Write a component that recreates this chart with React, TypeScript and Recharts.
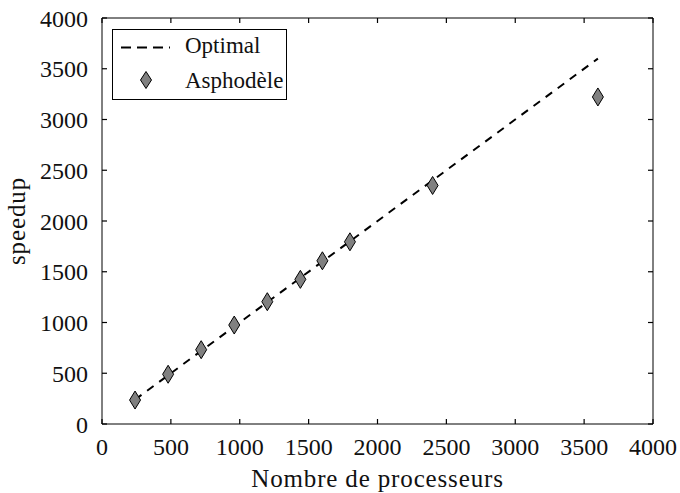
import React from "react";
import { ComposedChart, XAxis, YAxis, Line, Scatter, Legend } from "recharts";

const processors = [240, 480, 720, 960, 1200, 1440, 1600, 1800, 2400, 3600];
const speedups = [236, 490, 732, 975, 1205, 1425, 1608, 1795, 2350, 3222];
const optimalX = [240, 3600];
const ticks = [0, 500, 1000, 1500, 2000, 2500, 3000, 3500, 4000];

const asphodele = processors.map((x, i) => ({ x, y: speedups[i] }));
const optimal = optimalX.map((x) => ({ x, y: x }));

const FONT = "'Liberation Serif', serif";
const TICK_FS = 24;
const LABEL_FS = 25;
const LEGEND_FS = 23;
const INK = "#111";
const TL = 5;
const TC = "#000";
const TW = 1.2;

const BottomTick = (props: any) => {
  const { x, y, payload } = props;
  return (
    <g>
      <path d={`M${x},${y}L${x},${y - TL}`} stroke={TC} strokeWidth={TW} fill="none" />
      <text x={x} y={y + 31} textAnchor="middle" fontFamily={FONT} fontSize={TICK_FS} fill={INK}>
        {payload.value}
      </text>
    </g>
  );
};

const TopTick = (props: any) => {
  const { x, y } = props;
  return <path d={`M${x},${y}L${x},${y + TL}`} stroke={TC} strokeWidth={TW} fill="none" />;
};

const LeftTick = (props: any) => {
  const { x, y, payload } = props;
  return (
    <g>
      <path d={`M${x},${y}L${x + TL},${y}`} stroke={TC} strokeWidth={TW} fill="none" />
      <text x={x - 14} y={y + 8.5} textAnchor="end" fontFamily={FONT} fontSize={TICK_FS} fill={INK}>
        {payload.value}
      </text>
    </g>
  );
};

const RightTick = (props: any) => {
  const { x, y } = props;
  return <path d={`M${x},${y}L${x - TL},${y}`} stroke={TC} strokeWidth={TW} fill="none" />;
};

const XLabel = (props: any) => {
  const vb = props.viewBox || { x: 102, y: 424, width: 551, height: 60 };
  return (
    <text x={vb.x + vb.width / 2} y={vb.y + 63} textAnchor="middle" fontFamily={FONT} fontSize={LABEL_FS} letterSpacing={0.85} fill={INK}>
      Nombre de processeurs
    </text>
  );
};

const YLabel = (props: any) => {
  const vb = props.viewBox || { x: 0, y: 18, width: 102, height: 406 };
  const cx = 25;
  const cy = vb.y + vb.height / 2;
  return (
    <text x={cx} y={cy} transform={`rotate(-90 ${cx} ${cy})`} textAnchor="middle" fontFamily={FONT} fontSize={LABEL_FS} letterSpacing={0.9} fill={INK}>
      speedup
    </text>
  );
};

const Diamond = (props: any) => {
  const { cx, cy } = props;
  if (cx == null || cy == null) return <g />;
  const w = 5.5;
  const h = 9;
  return <polygon points={`${cx},${cy - h} ${cx + w},${cy} ${cx},${cy + h} ${cx - w},${cy}`} fill="#808080" stroke="#000" strokeWidth={1} />;
};

const LegendBox = () => (
  <svg width={175} height={71} style={{ display: "block" }}>
    <rect x={0.5} y={0.5} width={174} height={70} fill="#fff" stroke="#000" strokeWidth={1} />
    <line x1={9} y1={18.5} x2={58} y2={18.5} stroke="#000" strokeWidth={2} strokeDasharray="10 6" />
    <text x={73} y={24} fontFamily={FONT} fontSize={LEGEND_FS} fill={INK}>Optimal</text>
    <polygon points="34,42.5 39.5,51 34,59.5 28.5,51" fill="#808080" stroke="#000" strokeWidth={1} />
    <text x={73} y={59} fontFamily={FONT} fontSize={LEGEND_FS} fill={INK}>Asphodèle</text>
  </svg>
);

export default function App() {
  return (
    <div style={{ position: "absolute", left: 0, top: 0, width: 680, height: 493 }}>
      <ComposedChart width={680} height={493} margin={{ top: 17, right: 26, left: 0, bottom: 9 }} style={{ fontFamily: FONT }}>
        <XAxis xAxisId="b" type="number" dataKey="x" domain={[0, 4000]} ticks={ticks} interval={0} tickSize={0} tickMargin={0} tickLine={false} height={60} stroke="#000" tick={<BottomTick />} label={{ content: <XLabel /> }} />
        <XAxis xAxisId="t" orientation="top" type="number" dataKey="x" domain={[0, 4000]} ticks={ticks} interval={0} tickSize={0} tickMargin={0} tickLine={false} height={1} stroke="#000" tick={<TopTick />} />
        <YAxis yAxisId="l" type="number" dataKey="y" domain={[0, 4000]} ticks={ticks} interval={0} tickSize={0} tickMargin={0} tickLine={false} width={102} stroke="#000" tick={<LeftTick />} label={{ content: <YLabel /> }} />
        <YAxis yAxisId="r" orientation="right" type="number" dataKey="y" domain={[0, 4000]} ticks={ticks} interval={0} tickSize={0} tickMargin={0} tickLine={false} width={1} stroke="#000" tick={<RightTick />} />
        <Line xAxisId="t" yAxisId="r" data={optimal} dataKey="y" stroke="#000" strokeWidth={2} strokeDasharray="8 7" dot={false} isAnimationActive={false} name="Optimal" />
        <Scatter xAxisId="b" yAxisId="l" data={asphodele} dataKey="y" shape={<Diamond />} isAnimationActive={false} name="Asphodèle" />
        <Legend layout="horizontal" verticalAlign="middle" align="center" content={<LegendBox />} wrapperStyle={{ position: "absolute", left: 112, top: 29, width: 175, height: 71 }} />
      </ComposedChart>
    </div>
  );
}
